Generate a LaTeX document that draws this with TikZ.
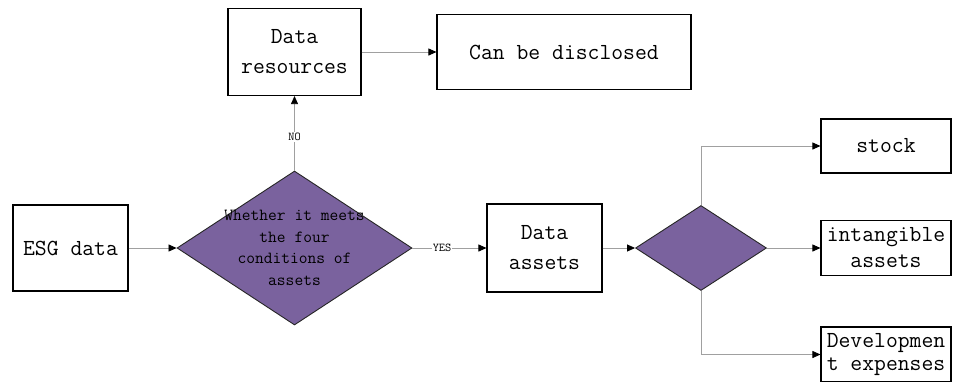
\documentclass[tikz,border=0pt]{standalone}
\usepackage{fontspec}
\newfontfamily\monof{Latin Modern Mono}
\usetikzlibrary{shapes.geometric,arrows.meta}
\definecolor{dpurple}{HTML}{7A629E}
\definecolor{lgray}{HTML}{A0A0A0}
\tikzset{
  boxn/.style={draw=black,line width=1.1pt,fill=white,inner sep=0pt,align=center,font=\monof\fontsize{23}{30}\selectfont},
  decn/.style={diamond,draw=black!85,line width=0.9pt,fill=dpurple,inner sep=0pt},
  conn/.style={draw=lgray,line width=0.8pt,-{Triangle[length=8pt,width=7pt,black]}},
  lbl/.style={fill=white,inner sep=1pt,font=\monof\fontsize{12}{13}\selectfont}
}
\begin{document}
\begin{tikzpicture}[x=1pt,y=-1pt]
\useasboundingbox (0,0) rectangle (953,381);
\node[boxn,minimum width=115pt,minimum height=86pt] (esg) at (70.5,248) {ESG data};
\node[boxn,minimum width=133pt,minimum height=87pt] (res) at (294.5,52) {Data\\resources};
\node[boxn,minimum width=254pt,minimum height=75pt] (disc) at (564,52) {Can be disclosed};
\node[decn,minimum width=235pt,minimum height=154pt] (d1) at (294.5,248) {};
\node[align=center,inner sep=0pt,font=\monof\fontsize{17}{21.5}\selectfont] (d1t) at (294.5,248) {Whether it meets\\the four\\conditions of\\assets};
\node[boxn,minimum width=115pt,minimum height=88pt] (assets) at (544.5,248) {Data\\assets};
\node[decn,minimum width=131pt,minimum height=85pt] (d2) at (701,248) {};
\node[boxn,minimum width=130pt,minimum height=54pt] (stock) at (886,146) {stock};
\node[boxn,minimum width=130pt,minimum height=55pt,font=\monof\fontsize{23}{26}\selectfont] (intang) at (886,248) {intangible\\assets};
\node[boxn,minimum width=130pt,minimum height=55pt,font=\monof\fontsize{23}{23}\selectfont] (dev) at (886,354.5) {Developmen\\t expenses};
\draw[conn] (esg.east) -- (d1.west);
\draw[conn] (d1.north) -- node[lbl,pos=0.45]{NO} (res.south);
\draw[conn] (res.east) -- (disc.west);
\draw[conn] (d1.east) -- node[lbl,pos=0.4]{YES} (assets.west);
\draw[conn] (assets.east) -- (d2.west);
\draw[conn] (d2.north) |- (stock.west);
\draw[conn] (d2.east) -- (intang.west);
\draw[conn] (d2.south) |- (dev.west);
\end{tikzpicture}
\end{document}
